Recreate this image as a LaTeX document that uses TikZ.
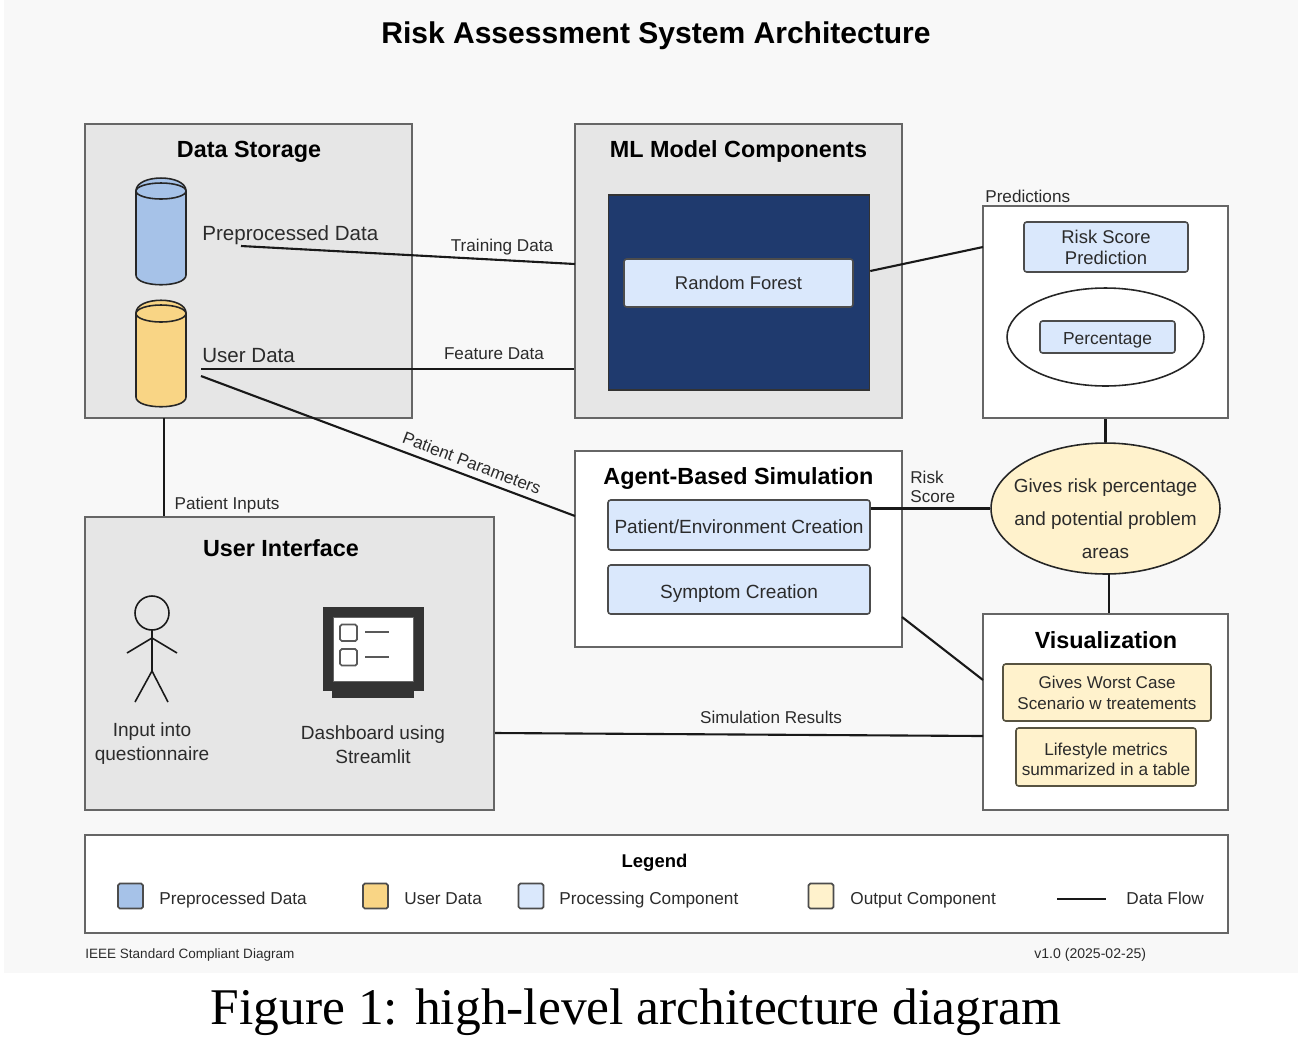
\documentclass[tikz,border=0pt]{standalone}
\usepackage{fontspec}
\setmainfont{Liberation Sans}
\newfontfamily\capfont{Liberation Serif}
\usetikzlibrary{shapes.geometric}

\definecolor{pagegray}{HTML}{F8F8F8}
\definecolor{panelgray}{HTML}{E6E6E6}
\definecolor{edgegray}{HTML}{666666}
\definecolor{navyfill}{HTML}{1F3A6E}
\definecolor{bluefill}{HTML}{A6C2E8}
\definecolor{userfill}{HTML}{F9D585}
\definecolor{procfill}{HTML}{DAE8FC}
\definecolor{outfill}{HTML}{FFF2CC}
\definecolor{inkgray}{HTML}{2B2B2B}

\begin{document}
\begin{tikzpicture}[
  x=0.02cm, y=-0.02cm,
  panel/.style={rectangle, draw=edgegray, line width=1.4pt, fill=panelgray, inner sep=0pt},
  whitepanel/.style={panel, fill=white},
  procbox/.style={rectangle, rounded corners=1.5pt, draw=black!70, line width=0.9pt, fill=procfill, align=center, inner sep=0pt, text=inkgray, font=\fontsize{10.5}{12}\selectfont},
  outbox/.style={procbox, draw=black!60!yellow!60!black, fill=outfill, font=\fontsize{9.7}{12}\selectfont},
  heading/.style={inner sep=0pt, text=black, text height=12pt, text depth=2.6pt, font=\bfseries\fontsize{13.3}{16}\selectfont},
  bodytext/.style={inner sep=0pt, align=center, text=inkgray, font=\fontsize{10.85}{13.7}\selectfont},
  flowlabel/.style={inner sep=0pt, align=left, text=inkgray, font=\fontsize{9.75}{11}\selectfont},
  legendtext/.style={inner sep=0pt, anchor=west, text=inkgray, text height=9pt, text depth=2.2pt, font=\fontsize{9.8}{12}\selectfont},
  swatch/.style={rectangle, rounded corners=1pt, draw=black!70, line width=1pt, minimum size=0.5cm, inner sep=0pt},
  footnotetext/.style={inner sep=0pt, anchor=west, text=inkgray, font=\fontsize{7.7}{9}\selectfont},
  flowline/.style={draw=black!90, line width=1.2pt}
]
  \useasboundingbox (0,0) rectangle (1298,1046);

  % ==========================================
  % 1. FONDO Y TITULO
  % ==========================================
  \fill[white] (0,0) rectangle (1298,1046);
  \fill[pagegray] (4,0) rectangle (1298,973);
  \node[inner sep=0pt, font=\bfseries\fontsize{17.1}{20}\selectfont] (title) at (656,36) {Risk Assessment System Architecture};
  \node[inner sep=0pt, font=\capfont\fontsize{29.3}{34}\selectfont] (caption) at (636,1012) {Figure 1: high-level architecture diagram};

  % ==========================================
  % 2. PANELES
  % ==========================================
  \node[panel, minimum width=6.54cm, minimum height=5.88cm] (storage) at (248.5,271) {};
  \node[panel, minimum width=6.54cm, minimum height=5.88cm] (mlbox) at (738.5,271) {};
  \node[whitepanel, minimum width=4.9cm, minimum height=4.24cm] (predbox) at (1105.5,312) {};
  \node[whitepanel, minimum width=6.54cm, minimum height=3.92cm] (agentbox) at (738.5,549) {};
  \node[panel, minimum width=8.18cm, minimum height=5.86cm] (uibox) at (289.5,663.5) {};
  \node[whitepanel, minimum width=4.9cm, minimum height=3.92cm] (vizbox) at (1105.5,712) {};
  \node[whitepanel, minimum width=22.86cm, minimum height=1.96cm] (legendbox) at (656.5,884) {};

  \node[heading] (storagetitle) at (249,149) {Data Storage};
  \node[heading] (mltitle) at (738.5,149) {ML Model Components};
  \node[heading] (agenttitle) at (738.5,476) {Agent-Based Simulation};
  \node[heading] (uititle) at (281,548) {User Interface};
  \node[heading] (viztitle) at (1106,640) {Visualization};

  % ==========================================
  % 3. CILINDROS
  % ==========================================
  \draw[fill=bluefill, draw=black!85, line width=0.9pt]
    (136,191) .. controls (136,173.7) and (186,173.7) .. (186,191) -- (186,275)
    .. controls (186,288) and (136,288) .. (136,275) -- cycle;
  \draw[fill=bluefill, draw=black!85, line width=0.9pt] (161,191) ellipse (25 and 8);
  \draw[fill=userfill, draw=black!85, line width=0.9pt]
    (136,313) .. controls (136,296) and (186,296) .. (186,313) -- (186,397)
    .. controls (186,410) and (136,410) .. (136,397) -- cycle;
  \draw[fill=userfill, draw=black!85, line width=0.9pt] (161,313.5) ellipse (25 and 8.5);

  \node[bodytext, anchor=west, font=\fontsize{11.7}{14}\selectfont] (prelabel) at (202,235) {Preprocessed Data};
  \node[bodytext, anchor=west, font=\fontsize{11.7}{14}\selectfont] (userlabel) at (202,356) {User Data};

  % ==========================================
  % 4. CAJAS INTERNAS
  % ==========================================
  \node[rectangle, draw=black!80, line width=0.9pt, fill=navyfill, minimum width=5.22cm, minimum height=3.9cm] (navybox) at (739,292.5) {};
  \node[procbox, minimum width=4.58cm, minimum height=0.96cm] (forest) at (738.5,283) {Random Forest};

  \node[procbox, minimum width=3.28cm, minimum height=1cm] (riskbox) at (1106,247) {Risk Score\\Prediction};
  \node[ellipse, draw=black!85, line width=0.9pt, fill=white, minimum width=3.94cm, minimum height=1.96cm, inner sep=0pt] (pctellipse) at (1105.5,337) {};
  \node[procbox, minimum width=2.7cm, minimum height=0.64cm, text height=11pt, text depth=2.4pt, font=\fontsize{9.9}{12}\selectfont] (pctbox) at (1107.5,337) {Percentage};

  \node[procbox, minimum width=5.24cm, minimum height=1cm, text height=12.4pt, text depth=2.4pt, font=\fontsize{10.85}{12}\selectfont] (patientbox) at (739,525) {Patient/Environment Creation};
  \node[procbox, minimum width=5.24cm, minimum height=0.98cm, text height=12.4pt, text depth=2.4pt, font=\fontsize{10.85}{12}\selectfont] (symptombox) at (739,589.5) {Symptom Creation};

  \node[ellipse, draw=black!85, line width=0.9pt, fill=outfill, minimum width=4.58cm, minimum height=2.62cm, inner sep=0pt] (riskellipse) at (1105.5,508.5) {};
  \node[inner sep=0pt, align=center, text=inkgray, font=\fontsize{10.8}{18.8}\selectfont] (risktext) at (1105.5,518.5) {Gives risk percentage\\and potential problem\\areas};

  \node[outbox, minimum width=4.16cm, minimum height=1.14cm] (worstbox) at (1107,692.5) {Gives Worst Case\\Scenario w treatements};
  \node[outbox, minimum width=3.6cm, minimum height=1.16cm] (lifebox) at (1106,757) {};
  \node[inner sep=0pt, align=center, text=inkgray, font=\fontsize{9.8}{11.4}\selectfont] (lifetext) at (1106,759.5) {Lifestyle metrics\\summarized in a table};

  % ==========================================
  % 5. USUARIO Y MONITOR
  % ==========================================
  \draw[black!90, line width=0.9pt] (152,613) circle (17);
  \draw[black!90, line width=0.9pt] (152,630) -- (152,671) (127,653) -- (152,638) -- (177,653) (135,702) -- (152,671) -- (168,702);
  \node[bodytext] (inputlabel) at (152,744) {Input into\\questionnaire};

  \fill[black!80] (332,690) rectangle (414,698);
  \draw[fill=black!80, draw=black!80, line width=0.5pt] (323,607) rectangle (423,690);
  \draw[fill=white, draw=black!60, line width=0.5pt] (333,617) rectangle (413,681);
  \draw[black!65, line width=1pt, rounded corners=1pt] (340,624.5) rectangle (357,641);
  \draw[black!65, line width=1pt] (365,632) -- (389,632);
  \draw[black!65, line width=1pt, rounded corners=1pt] (340,649) rectangle (357,665.5);
  \draw[black!65, line width=1pt] (365,657) -- (389,657);
  \node[bodytext] (dashlabel) at (373,745) {Dashboard using\\Streamlit};

  % ==========================================
  % 6. FLUJOS
  % ==========================================
  \coordinate (preout) at (241,246);
  \coordinate (userout) at (201,369);
  \coordinate (paramout) at (201,376);
  \coordinate (trainin) at (575,264);
  \coordinate (paramin) at (575,516);

  \draw[flowline] (preout) -- (trainin);
  \draw[flowline] (userout) -- (mlbox.west |- userout);
  \draw[flowline] (paramout) -- (paramin);
  \draw[flowline] (164,418) coordinate (inputtop) -- (inputtop |- uibox.north);
  \draw[flowline] (navybox.east |- 0,271) coordinate (forestout) -- (983,247) coordinate (predin);
  \draw[flowline] (predbox.south) -- (riskellipse.north);
  \draw[flowline] (patientbox.east |- riskellipse.west) -- (riskellipse.west);
  \draw[flowline] (1109,574) coordinate (ellipseout) -- (ellipseout |- vizbox.north);
  \draw[flowline] (902,617) coordinate (agentout) -- (983,680) coordinate (vizin);
  \draw[flowline] (uibox.east |- 0,733) coordinate (uiout) -- (983,736) coordinate (simin);

  \node[flowlabel] (trainlabel) at (502,247) {Training Data};
  \node[flowlabel] (featlabel) at (494,354) {Feature Data};
  \node[flowlabel, rotate=-21] (paramlabel) at (472,463) {Patient Parameters};
  \node[flowlabel] (inputslabel) at (227,505) {Patient Inputs};
  \node[flowlabel, anchor=west] (predlabel) at (985,196) {Predictions};
  \node[flowlabel, anchor=west] (scorelabel) at (910,487) {Risk\\Score};
  \node[flowlabel] (simlabel) at (771,717) {Simulation Results};

  % ==========================================
  % 7. LEYENDA
  % ==========================================
  \node[inner sep=0pt, font=\bfseries\fontsize{10.5}{12}\selectfont] (legendtitle) at (654.5,863) {Legend};
  \node[swatch, fill=bluefill] (swpre) at (130.5,896) {};
  \node[swatch, fill=userfill] (swuser) at (375.5,896) {};
  \node[swatch, fill=procfill] (swproc) at (531,896) {};
  \node[swatch, fill=outfill] (swout) at (821,896) {};
  \node[legendtext] (lgpre) at (159,899) {Preprocessed Data};
  \node[legendtext] (lguser) at (404,899) {User Data};
  \node[legendtext] (lgproc) at (559,899) {Processing Component};
  \node[legendtext] (lgout) at (850,899) {Output Component};
  \coordinate (lgflowa) at (1057,899);
  \coordinate (lgflowb) at (1106,899);
  \draw[flowline] (lgflowa) -- (lgflowb);
  \node[legendtext] (lgflow) at (1126,899) {Data Flow};

  \node[footnotetext] (footleft) at (85,955) {IEEE Standard Compliant Diagram};
  \node[footnotetext, font=\fontsize{8}{9}\selectfont] (footright) at (1034,955) {v1.0 (2025-02-25)};

\end{tikzpicture}
\end{document}
